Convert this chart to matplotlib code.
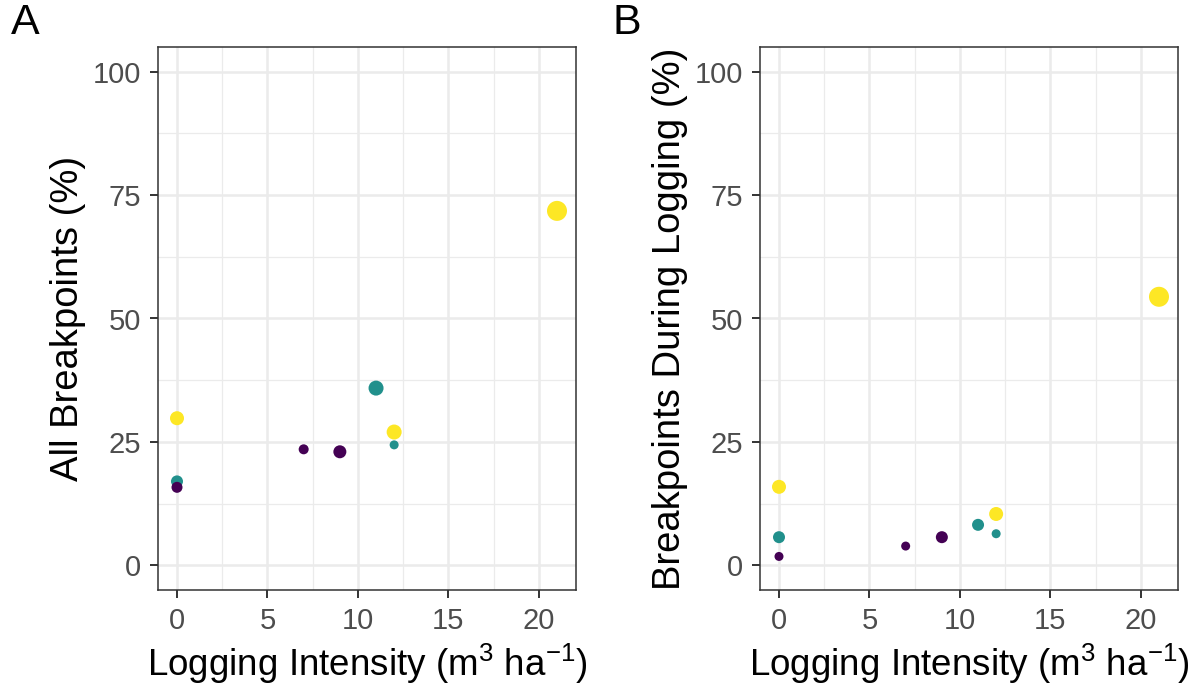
import numpy as np
import matplotlib
matplotlib.use('Agg')
import matplotlib.pyplot as plt
from matplotlib.ticker import MultipleLocator

plt.rcParams['font.family'] = ['Liberation Sans', 'DejaVu Sans']
plt.rcParams['mathtext.fontset'] = 'custom'
plt.rcParams['mathtext.rm'] = 'Liberation Sans'
plt.rcParams['mathtext.it'] = 'Liberation Sans'

# data
intensity = [0, 0, 0, 7, 9, 11, 12, 12, 21]
group = [2, 1, 0, 0, 0, 1, 2, 1, 2]          # colour group
all_bp = [29.8, 17.0, 15.8, 23.5, 23.0, 35.9, 27.0, 24.4, 71.8]
during_bp = [15.9, 5.7, 1.8, 3.9, 5.7, 8.2, 10.4, 6.4, 54.4]
size_a = [14, 12, 11, 10, 13, 15, 15, 9, 20]   # point diameter (px)
size_b = [14, 12, 9, 9, 12, 12, 14, 9, 20]

colors = ['#440154', '#21908C', '#FDE725']

fig = plt.figure(figsize=(12.03, 6.97), dpi=100)
W, H = 1203, 697


def panel(left, ydata, sizes, ylabel, tag):
    ax = fig.add_axes([left / W, 1 - 590 / H, 418 / W, 543 / H])
    c = [colors[g] for g in group]
    s = [(d * 0.72) ** 2 for d in sizes]
    ax.scatter(intensity, ydata, s=s, c=c, linewidths=0, zorder=3)
    ax.set_xlim(-1.05, 22.05)
    ax.set_ylim(-5, 105)
    ax.xaxis.set_major_locator(MultipleLocator(5))
    ax.xaxis.set_minor_locator(MultipleLocator(2.5))
    ax.yaxis.set_major_locator(MultipleLocator(25))
    ax.yaxis.set_minor_locator(MultipleLocator(12.5))
    ax.grid(which='major', color='#EBEBEB', lw=1.8, zorder=0)
    ax.grid(which='minor', color='#EBEBEB', lw=0.9, zorder=0)
    ax.set_axisbelow(True)
    for sp in ax.spines.values():
        sp.set_color('#333333')
        sp.set_linewidth(1.1)
    ax.tick_params(which='major', length=6, width=1.4, color='#333333',
                   labelsize=21, labelcolor='#4D4D4D', pad=6)
    ax.tick_params(which='minor', length=0)
    ax.set_xlabel('Logging Intensity (m$^3$ ha$^{-1}$)', fontsize=26.5, labelpad=5)
    ax.set_ylabel(ylabel, fontsize=27.5, labelpad=5)
    fig.text((left - 147) / W, 1 - 43 / H, tag, fontsize=31, va='bottom', ha='left')
    return ax


panel(158, all_bp, size_a, 'All Breakpoints (%)', 'A')
panel(760, during_bp, size_b, 'Breakpoints During Logging (%)', 'B')

fig.savefig('out.png', dpi=100)
